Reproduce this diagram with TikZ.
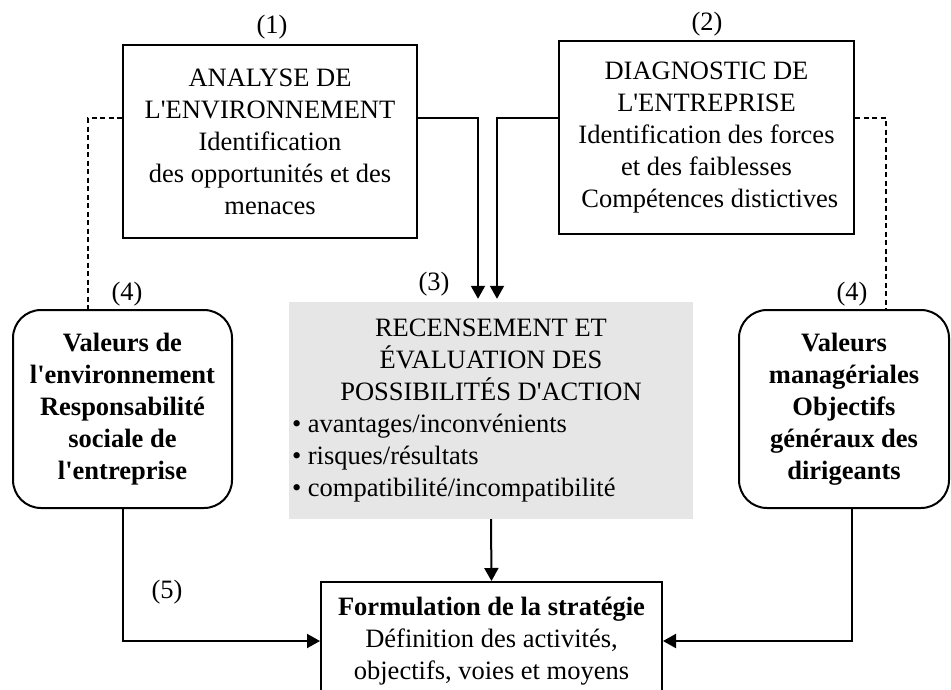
\documentclass[tikz,border=0pt]{standalone}
\usepackage{fontspec}
\setmainfont{Liberation Serif}[Ligatures=TeXOff]
\usetikzlibrary{arrows.meta}
\definecolor{boxgray}{RGB}{230,230,230}
\begin{document}
\begin{tikzpicture}[x=1pt,y=-1pt,
  font=\fontsize{26.5}{32}\selectfont,
  plainbox/.style={draw,line width=2pt,align=center,inner sep=0pt},
  roundbox/.style={draw,line width=2pt,align=center,inner sep=0pt,rounded corners=28pt,font=\fontsize{26.5}{32}\selectfont\bfseries},
  graybox/.style={fill=boxgray,inner sep=0pt},
  conn/.style={line width=2pt,-{Triangle[width=14pt,length=13pt]}},
  dashline/.style={line width=1.2pt,dash pattern=on 5pt off 3.5pt},
  numlabel/.style={inner sep=0pt}]
\useasboundingbox (0,0) rectangle (951,689);
\clip (0,0) rectangle (951,689);

\node[plainbox,minimum width=294pt,minimum height=193pt] (b1) at (270,141.5)
  {ANALYSE DE\\L'ENVIRONNEMENT\\Identification\\des opportunités et des\\menaces};
\node[plainbox,minimum width=295pt,minimum height=193pt] (b2) at (706.5,137.5)
  {DIAGNOSTIC DE\\L'ENTREPRISE\\Identification des forces\\et des faiblesses\\\ Compétences distictives};

\node[graybox,minimum width=404pt,minimum height=217pt] (g) at (491,410.5)
  {\begin{minipage}{398pt}\parindent=0pt
   {\centering RECENSEMENT ET\\ÉVALUATION DES\\POSSIBILITÉS D'ACTION\par}
   \raggedright
   • avantages/inconvénients\\
   • risques/résultats\\
   • compatibilité/incompatibilité\par
   \end{minipage}};

\node[roundbox,minimum width=219pt,minimum height=198pt] (lb) at (122.5,409)
  {Valeurs de\\l'environnement\\Responsabilité\\sociale de\\l'entreprise};
\node[roundbox,minimum width=210pt,minimum height=198pt] (rb) at (844,409)
  {Valeurs\\managériales\\Objectifs\\généraux des\\dirigeants};

\node[plainbox,minimum width=341pt,minimum height=118pt] (fb) at (491.5,641)
  {\textbf{Formulation de la stratégie}\\Définition des activités,\\objectifs, voies et moyens};

\node[numlabel] (l1) at (272,27) {(1)};
\node[numlabel] (l2) at (707,24) {(2)};
\node[numlabel] (l3) at (434,284) {(3)};
\node[numlabel] (l4a) at (127,294) {(4)};
\node[numlabel] (l4b) at (852,294) {(4)};
\node[numlabel] (l5) at (167,592) {(5)};

\draw[conn,shorten >=3pt] ([yshift=23.5pt]b1.east) -| ([xshift=-13pt]g.north);
\draw[conn,shorten >=3pt] ([yshift=19.5pt]b2.west) -| ([xshift=6pt]g.north);
\draw[dashline] ([yshift=23.5pt]b1.west) -| ([xshift=-34.5pt]lb.north);
\draw[dashline] ([yshift=19.5pt]b2.east) -| ([xshift=42pt]rb.north);
\draw[conn] (g.south) -- (fb.north);
\draw[conn] (lb.south) |- (fb.west);
\draw[conn] ([xshift=8pt]rb.south) |- (fb.east);
\end{tikzpicture}
\end{document}
